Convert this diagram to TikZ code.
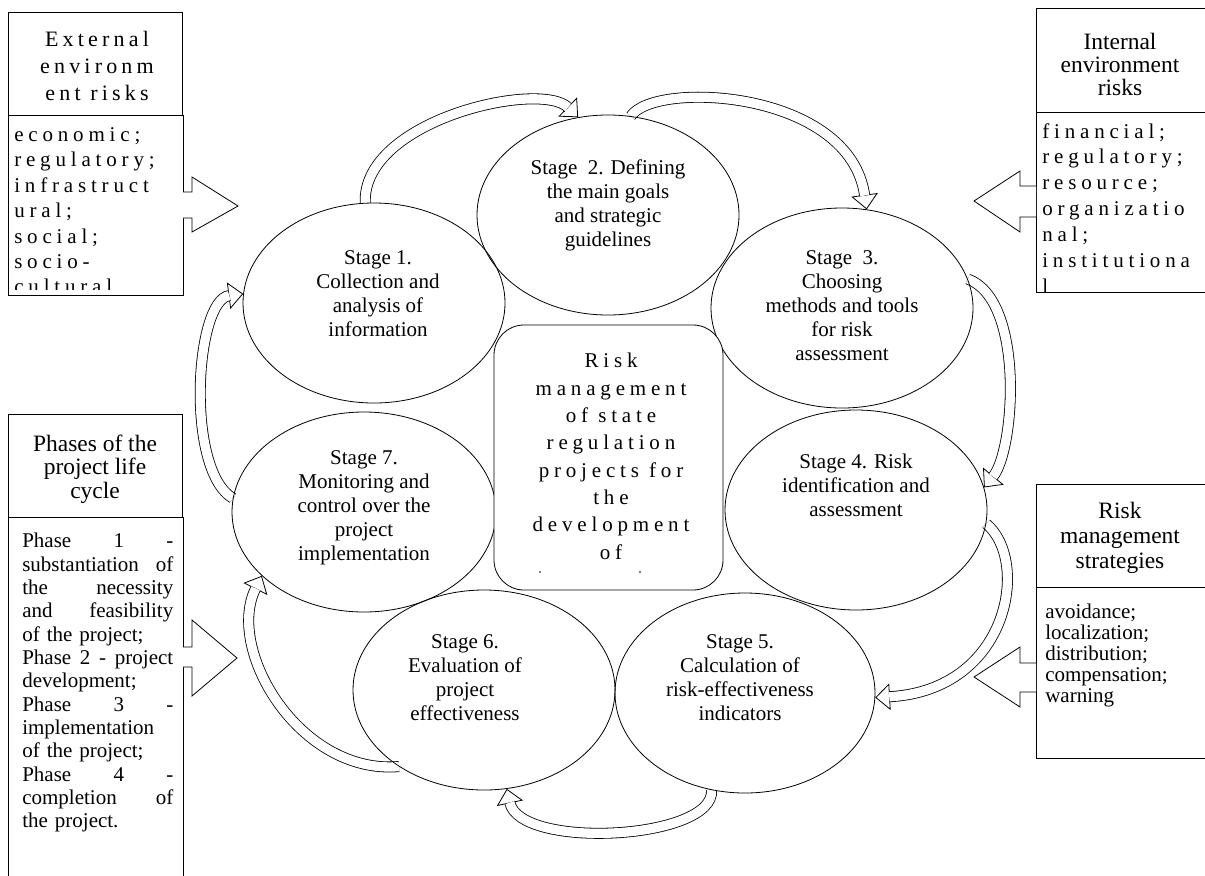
\documentclass[tikz,border=0pt]{standalone}
\usepackage{fontspec}
\setmainfont{Liberation Serif}
\newfontfamily\lsfont[LetterSpace=23]{Liberation Serif}
\newfontfamily\lshead[LetterSpace=19]{Liberation Serif}
\usetikzlibrary{shapes.geometric,arrows.meta}
\pgfdeclarelayer{bg}
\pgfsetlayers{bg,main}
\newcommand\blockcurve[1]{%
  \draw[headtip] #1;
  \draw[shaft] #1;}
\begin{document}
\begin{tikzpicture}[x=0.75pt,y=-0.75pt,
  ln/.style={line width=0.6pt},
  stagebox/.style={ellipse,draw,line width=0.6pt,inner sep=0pt,minimum width=196.5pt,minimum height=150pt},
  stagetext/.style={inner sep=0pt,anchor=north,align=center,font=\fontsize{15.75}{18}\selectfont},
  boxr/.style={draw,line width=0.6pt,rectangle,inner sep=0pt,anchor=north west},
  headtext/.style={inner sep=0pt,anchor=north,align=center,font=\fontsize{17.6}{17.6}\selectfont},
  headtip/.style={line width=0.6pt,-{Triangle[length=11pt,width=20pt,fill=white]}},
  shaft/.style={line width=0.6pt,double=white,double distance=7pt,shorten >=10.5pt},
  blockarr/.style={line width=0.6pt,fill=white}
]
\useasboundingbox (0,0) rectangle (1205,875);

% ---------- stage ellipses ----------
\node[stagebox] (s1) at (374,303) {};
\node[stagebox,minimum height=150pt] (s2) at (608,215) {};
\node[stagebox] (s3) at (842,308) {};
\node[stagebox] (s4) at (856,510) {};
\node[stagebox,minimum width=195pt] (s5) at (745,693) {};
\node[stagebox] (s6) at (484,690) {};
\node[stagebox,minimum width=198pt] (s7) at (364,512) {};

% ---------- curved block arrows ----------
\begin{pgfonlayer}{bg}
\blockcurve{(s1.95) .. controls (362,120) and (540,80) .. (s2.107)}
\blockcurve{(s2.77) .. controls (655,80) and (850,90) .. (s3.76)}
\blockcurve{(s3.13) .. controls (1025,300) and (1015,450) .. (s4.10)}
\blockcurve{(s4.-6) .. controls (1030,560) and (1010,690) .. (s5.-2)}
\blockcurve{(s5.251) .. controls (715,840) and (520,850) .. (s6.283)}
\blockcurve{(s6.222) .. controls (300,775) and (225,650) .. (s7.212)}
\blockcurve{(s7.174) .. controls (185,470) and (195,300) .. (s1.176)}
\end{pgfonlayer}

% ---------- central rounded box ----------
\node[draw,line width=0.6pt,fill=white,rounded corners=22.5pt,minimum width=171.75pt,minimum height=198.75pt,inner sep=0pt] (ctr) at (608.5,457.5) {};
\begin{scope}
\clip (494,325) rectangle (723,575);
\node[inner sep=0pt,anchor=north,align=center,font=\lsfont\fontsize{15.75}{20.5}\selectfont] (ctrtext) at (611,353)
 {Risk\\management\\of state\\regulation\\projects for\\the\\development\\of};
\end{scope}
\fill (540,572) circle[radius=0.6pt];
\fill (640,572) circle[radius=0.6pt];

% ---------- stage texts ----------
\node[stagetext] (t1) at (378,250) {Stage 1.\\Collection and\\analysis of\\information};
\node[stagetext] (t2) at (608,159) {Stage\ \ 2. Defining\\the main goals\\and strategic\\guidelines};
\node[stagetext] (t3) at (842,250) {Stage\ \ 3.\\Choosing\\methods and tools\\for risk\\assessment};
\node[stagetext] (t4) at (856,454) {Stage 4. Risk\\identification and\\assessment};
\node[stagetext] (t5) at (740,634) {Stage 5.\\Calculation of\\risk-effectiveness\\indicators};
\node[stagetext] (t6) at (465,634) {Stage 6.\\Evaluation of\\project\\effectiveness};
\node[stagetext] (t7) at (364,450) {Stage 7.\\Monitoring and\\control over the\\project\\implementation};

% ---------- top-left box ----------
\node[boxr,minimum width=130.5pt,minimum height=77.25pt] (tlh) at (8,12) {};
\node[boxr,minimum width=131.25pt,minimum height=135pt] (tlb) at (8,115) {};
\node[inner sep=0pt,anchor=north,align=center,font=\lshead\fontsize{16.5}{20.6}\selectfont] (tlht) at (97,30.5)
 {External\\environm\\ent risks};
\begin{scope}
\clip (8,115) rectangle (183,289);
\node[inner sep=0pt,anchor=north west,align=left,font=\lsfont\fontsize{15.75}{19.1}\selectfont] (tlbt) at (14,127)
 {economic;\\regulatory;\\infrastruct\\ural;\\social;\\socio-\\cultural};
\end{scope}
\draw[blockarr] (183,192) -- (192,192) -- (192,177) -- (238,206) -- (192,232) -- (192,218) -- (183,218);

% ---------- top-right box ----------
\node[boxr,minimum width=130pt,minimum height=78pt] (trh) at (1036,8) {};
\node[boxr,minimum width=130pt,minimum height=135pt] (trb) at (1036,112) {};
\node[headtext] (trht) at (1120,32.5) {Internal\\environment\\risks};
\begin{scope}
\clip (1036,112) rectangle (1205,291);
\node[inner sep=0pt,anchor=north west,align=left,font=\lsfont\fontsize{15.75}{19.4}\selectfont] (trbt) at (1042,123)
 {financial;\\regulatory;\\resource;\\organizatio\\nal;\\institutiona\\l};
\end{scope}
\draw[blockarr] (1036,186) -- (1020,186) -- (1020,171) -- (974,201) -- (1020,232) -- (1020,217) -- (1036,217);

% ---------- bottom-left box ----------
\node[boxr,minimum width=130.5pt,minimum height=77.25pt] (lbh) at (8,414) {};
\node[boxr,minimum width=131.25pt,minimum height=272pt] (lbb) at (8,517) {};
\node[headtext] (lbht) at (95,434.5) {Phases of the\\project life\\cycle};
\node[inner sep=0pt,anchor=north west,text width=113.25pt,align=left,font=\fontsize{15.75}{17.5}\selectfont] (lbbt) at (22,533)
 {Phase\hfill 1\hfill -\\
  substantiation\hfill of\\
  the\hfill necessity\\
  and\hfill feasibility\\
  of the project;\\
  Phase\hfill 2\hfill -\hfill project\\
  development;\\
  Phase\hfill 3\hfill -\\
  implementation\\
  of the project;\\
  Phase\hfill 4\hfill -\\
  completion\hfill of\\
  the project.};
\draw[blockarr] (183,647) -- (192,647) -- (192,620) -- (237,658) -- (192,696) -- (192,667) -- (183,667);

% ---------- bottom-right box ----------
\node[boxr,minimum width=130pt,minimum height=77.25pt] (rbh) at (1036,484) {};
\node[boxr,minimum width=130pt,minimum height=128.25pt] (rbb) at (1036,587) {};
\node[headtext,font=\fontsize{17.6}{18.75}\selectfont] (rbht) at (1120,501.5) {Risk\\management\\strategies};
\node[inner sep=0pt,anchor=north west,align=left,font=\fontsize{15.75}{15.75}\selectfont] (rbbt) at (1045,604)
 {avoidance;\\localization;\\distribution;\\compensation;\\warning};
\draw[blockarr] (1036,663) -- (1020,663) -- (1020,647) -- (974,677) -- (1020,707) -- (1020,692) -- (1036,692);
\end{tikzpicture}
\end{document}
